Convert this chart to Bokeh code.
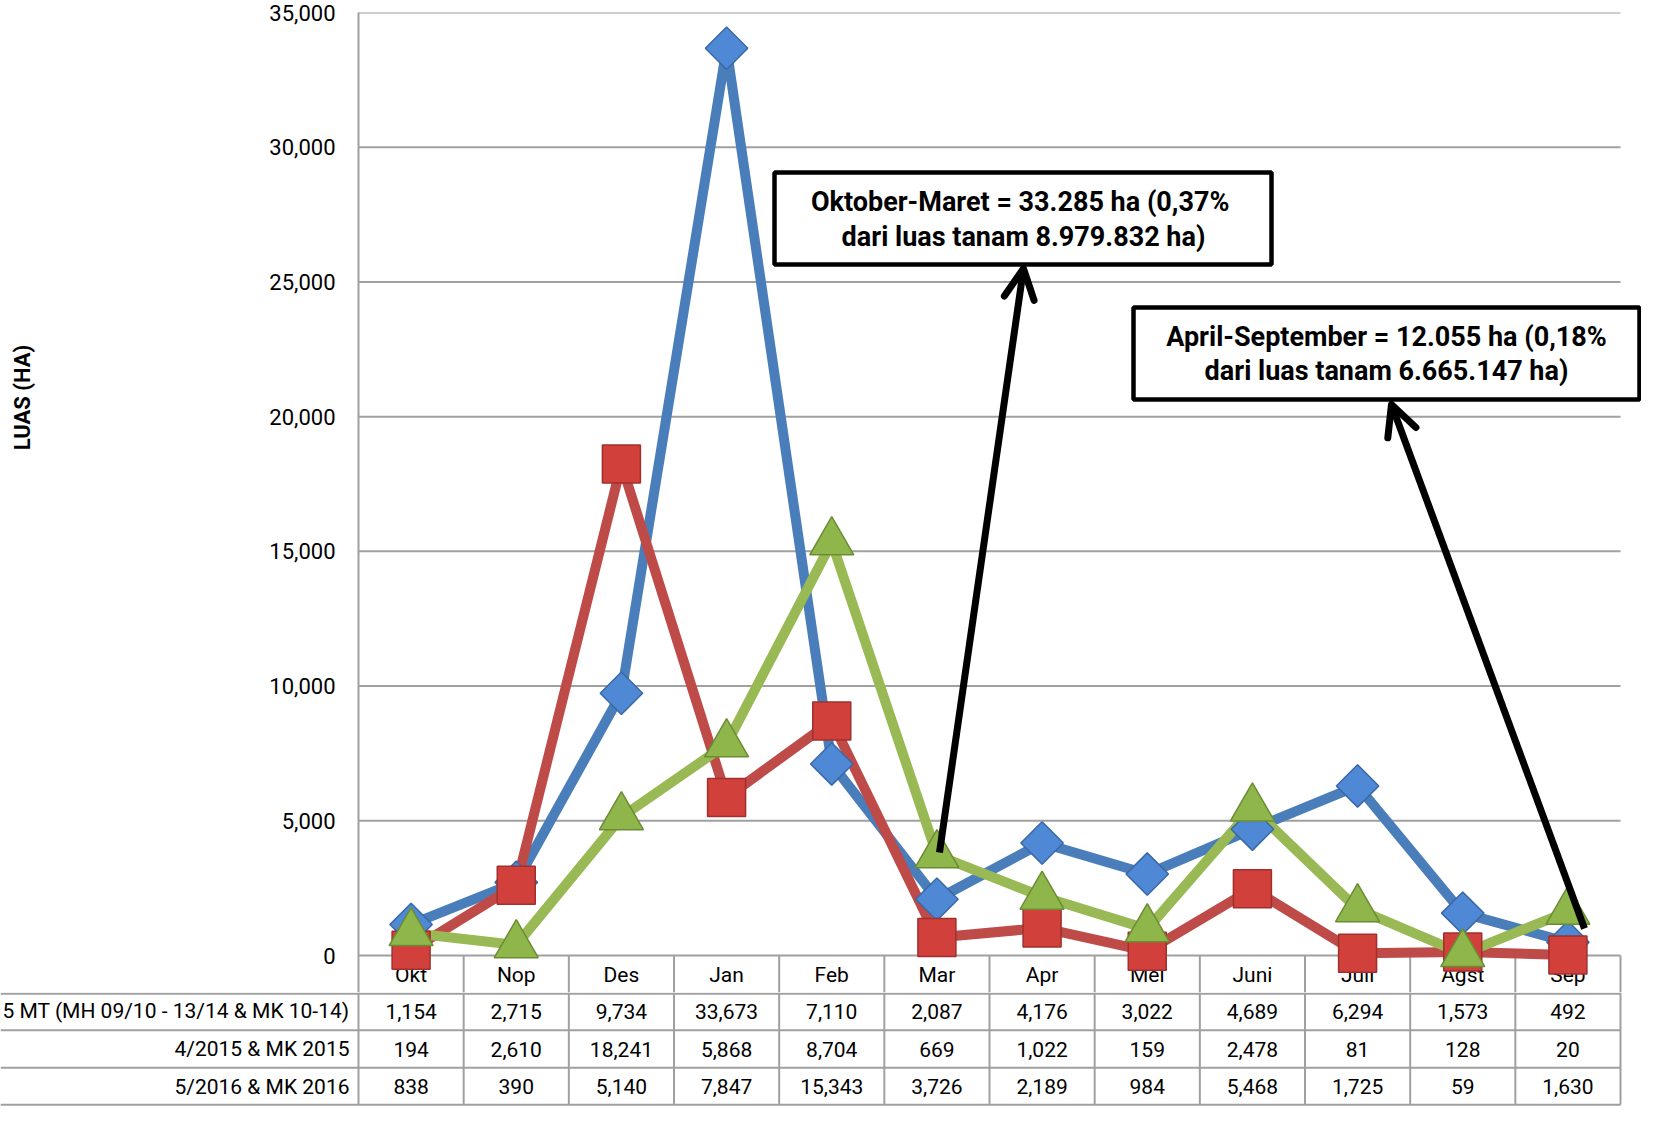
import numpy as np
from bokeh.plotting import figure
from bokeh.layouts import row
from bokeh.models import Range1d, FixedTicker, NumeralTickFormatter, Arrow, OpenHead
from bokeh.core.properties import value
from bokeh.embed import file_html
from bokeh.resources import INLINE

# ---------------- data ----------------
months = ["Okt", "Nop", "Des", "Jan", "Feb", "Mar", "Apr", "Mei", "Juni", "Juli", "Agst", "Sep"]
row_labels = ["5 MT (MH 09/10 - 13/14 & MK 10-14)", "4/2015 & MK 2015", "5/2016 & MK 2016"]
rata_5mt = [1154, 2715, 9734, 33673, 7110, 2087, 4176, 3022, 4689, 6294, 1573, 492]
mk_2015 = [194, 2610, 18241, 5868, 8704, 669, 1022, 159, 2478, 81, 128, 20]
mk_2016 = [838, 390, 5140, 7847, 15343, 3726, 2189, 984, 5468, 1725, 59, 1630]
y_ticks = [0, 5000, 10000, 15000, 20000, 25000, 30000, 35000]
note1 = ["Oktober-Maret  = 33.285 ha (0,37%", "dari luas tanam 8.979.832 ha)"]
note2 = ["April-September = 12.055 ha (0,18%", "dari luas tanam 6.665.147 ha)"]
y_title = "LUAS (HA)"

# ---------------- layout helpers (screen pixels of the page) ----------------
FONT = "Roboto"
W = 1641
W0 = 60                      # width of the strip holding the value-axis title
AX_L = 366.0                 # x of the value axis
COL_W = (1628.0 - AX_L) / 12  # width of one month column
Y_ZERO, Y_TOP = 963.0, 20.0  # y of 0 and of 35,000


def dx(px):
    return -0.5 + (px - AX_L) / COL_W


def dy(py):
    return 35000.0 * (Y_ZERO - py) / (Y_ZERO - Y_TOP)


xs = list(range(len(months)))
bounds = [i + 0.5 for i in range(-1, len(months))]
GRID = "#a0a0a0"
H1 = 992

# ---------------- axis-title strip ----------------
p0 = figure(width=W0, height=H1, output_backend="svg", toolbar_location=None,
            x_range=Range1d(8, 8 + W0), y_range=Range1d(dy(1000), 35000),
            x_axis_location=None, y_axis_location=None, min_border_left=0, min_border_right=0,
            min_border_top=12, min_border_bottom=0)
p0.outline_line_color = None
p0.grid.visible = False
p0.text(x=[30], y=[dy(405)], text=[y_title], angle=np.pi / 2, text_align="center",
        text_baseline="middle", text_font=value(FONT), text_font_style="bold",
        text_font_size="22px", text_color="black")

# ---------------- chart figure ----------------
p1 = figure(width=W - W0, height=H1, output_backend="svg", toolbar_location=None,
            x_range=Range1d(-0.5, dx(1649)), y_range=Range1d(dy(1000), 35000),
            x_axis_location=None, min_border_left=358 - W0, min_border_right=0,
            min_border_top=12, min_border_bottom=0)
p1.outline_line_color = None
p1.grid.visible = False

ya = p1.yaxis[0]
ya.ticker = FixedTicker(ticks=y_ticks)
ya.formatter = NumeralTickFormatter(format="0,0")
ya.major_label_text_font = FONT
ya.major_label_text_font_size = "22px"
ya.major_label_text_color = "black"
ya.major_tick_line_color = None
ya.minor_tick_line_color = None
ya.major_tick_in = 0
ya.major_tick_out = 0
ya.major_label_standoff = 23
ya.axis_line_color = GRID
ya.axis_line_width = 2

# gridlines
p1.segment(x0=-0.5, x1=11.5, y0=y_ticks, y1=y_ticks, line_color=GRID, line_width=2)
# header row vertical cell lines
p1.segment(x0=bounds[1:], x1=bounds[1:], y0=0, y1=dy(1001), line_color=GRID, line_width=2)
# month labels in header row
p1.text(x=xs, y=dy(982), text=months, text_align="center", text_baseline="middle",
        text_font=value(FONT), text_font_size="21px", text_color="black")

series = [
    (rata_5mt, "#4a7ebb", "square", np.pi / 4, 30, "#4f88d4", "#3a68a6"),
    (mk_2015, "#be4b48", "square", 0, 38, "#d2403b", "#a0302d"),
    (mk_2016, "#98b954", "triangle", 0, 44, "#8fb64a", "#6c8c34"),
]
for vals, lc, mk, ang, sz, fc, oc in series:
    p1.line(xs, vals, line_color=lc, line_width=10, line_join="round")
for vals, lc, mk, ang, sz, fc, oc in series:
    p1.scatter(xs, vals, marker=mk, angle=ang, size=sz, fill_color=fc, line_color=oc, line_width=1.5)

# note boxes
p1.quad(left=[dx(782), dx(1141)], right=[dx(1279), dx(1647)],
        top=[dy(180), dy(315)], bottom=[dy(272), dy(407)],
        fill_color="white", line_color="black", line_width=4.5)
p1.text(x=dx(1031), y=[dy(209), dy(244)], text=note1, text_align="center", text_baseline="middle",
        text_font=value(FONT), text_font_style="bold", text_font_size="27px", text_color="black")
p1.text(x=dx(1394), y=[dy(344), dy(378)], text=note2, text_align="center", text_baseline="middle",
        text_font=value(FONT), text_font_style="bold", text_font_size="27px", text_color="black")

for (x0, y0, x1, y1) in [(947, 860, 1031, 276), (1592, 936, 1399, 412)]:
    p1.add_layout(Arrow(end=OpenHead(size=30, line_width=7, line_color="black", line_cap="round",
                                     line_join="round"),
                        x_start=dx(x0), y_start=dy(y0), x_end=dx(x1), y_end=dy(y1),
                        line_width=7, line_color="black"))

# ---------------- data table figure ----------------
H2 = 114
ROW_H = (1113.0 - 1000.0) / 3
p2 = figure(width=W, height=H2, output_backend="svg", toolbar_location=None,
            x_range=Range1d(dx(8), dx(1649)), y_range=Range1d(H2 / ROW_H, 0),
            x_axis_location=None, y_axis_location=None,
            min_border_left=0, min_border_right=0, min_border_top=0, min_border_bottom=0)
p2.outline_line_color = None
p2.grid.visible = False

rows = [0.03, 1, 2, 2.98]
p2.segment(x0=dx(8), x1=11.5, y0=rows, y1=rows, line_color=GRID, line_width=2)
p2.segment(x0=bounds, x1=bounds, y0=0, y1=2.98, line_color=GRID, line_width=2)
p2.text(x=dx(357), y=[0.5, 1.5, 2.5], text=row_labels, text_align="right", text_baseline="middle",
        text_font=value(FONT), text_font_size="21px", text_color="black")
for i, vals in enumerate([rata_5mt, mk_2015, mk_2016]):
    p2.text(x=xs, y=i + 0.5, text=[f"{v:,}" for v in vals], text_align="center",
            text_baseline="middle", text_font=value(FONT), text_font_size="21px", text_color="black")

top = row(p0, p1, spacing=0)
open("out.html", "w").write(file_html([top, p2], INLINE))
